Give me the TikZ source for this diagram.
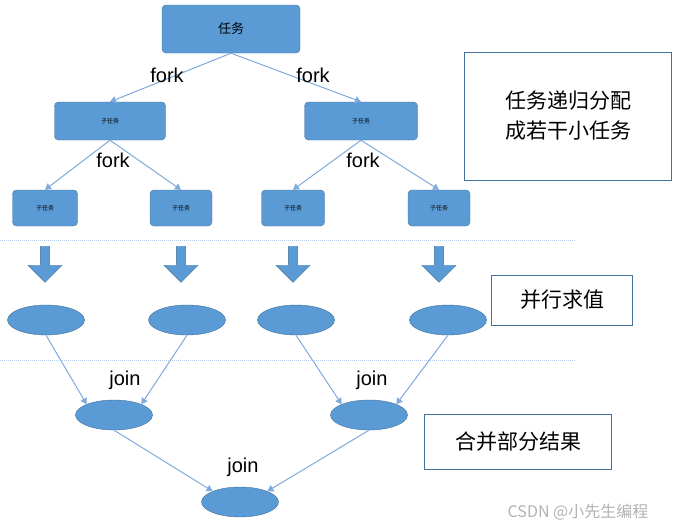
\documentclass[tikz,border=0pt]{standalone}
\usepackage{fontspec}
\setmainfont{Liberation Sans}
\newfontfamily\cjk{Noto Sans CJK SC}
\usetikzlibrary{shapes.geometric, shapes.arrows, arrows.meta, positioning}
\definecolor{tblue}{HTML}{5B9BD5}
\definecolor{tedge}{HTML}{41719C}
\definecolor{tline}{HTML}{7FAADB}
\tikzset{
task/.style = {%
    draw=tedge, fill=tblue, rounded corners=4pt,
    minimum width=#1, font=\cjk\fontsize{6}{7}\selectfont},
    task/.default = 60pt,
pod/.style = {ellipse, draw=tedge, fill=tblue,
    minimum width=77pt, minimum height=30pt, inner sep=0pt},
note/.style = {draw=tedge, line width=0.8pt, fill=white,
    font=\cjk\fontsize{21}{30}\selectfont, align=center},
lbl/.style = {font=\fontsize{20}{20}\selectfont}
}
\begin{document}
\begin{tikzpicture}[x=1pt, y=-1pt,
        every edge/.style = {draw=tline, line width=1pt, -{Triangle[length=6pt,width=7pt]}}
    ]
        \useasboundingbox (0,0) rectangle (675,530);

        % Task tree
        \node[task=138pt, minimum height=48pt, font=\cjk\fontsize{13}{14}\selectfont] at (231,29) (root) {任务};
        \node[task=111pt, minimum height=38pt] at (110,121) (subL) {子任务};
        \node[task=113pt, minimum height=38pt] at (361,121) (subR) {子任务};
        \node[task=65pt, minimum height=36pt] at (45,208)  (leaf1) {子任务};
        \node[task=62pt, minimum height=36pt] at (181,208) (leaf2) {子任务};
        \node[task=63pt, minimum height=36pt] at (293,208) (leaf3) {子任务};
        \node[task=62pt, minimum height=36pt] at (439,208) (leaf4) {子任务};

        \draw (root.south) edge (subL.north) (root.south) edge (subR.north);
        \draw (subL.south) edge (leaf1.north) (subL.south) edge (leaf2.north);
        \draw (subR.south) edge (leaf3.north) (subR.south) edge (leaf4.north);

        \node[lbl] at (167,75)  (f1) {fork};
        \node[lbl] at (313,75)  (f2) {fork};
        \node[lbl] at (113,160) (f3) {fork};
        \node[lbl] at (363,160) (f4) {fork};

        % Separators
        \coordinate (s1a) at (0,240);   \coordinate (s1b) at (575,240);
        \coordinate (s2a) at (0,360);   \coordinate (s2b) at (575,360);
        \draw[tline!60, densely dotted, line width=1pt] (s1a) -- (s1b) (s2a) -- (s2b);

        % Block arrows and values
        \foreach \n/\x in {1/45, 2/181, 3/293, 4/439}
            \node[single arrow, shape border rotate=270, draw=tedge, fill=tblue,
                  minimum width=34pt, minimum height=36pt, single arrow head extend=6pt,
                  inner sep=2pt] at (\x,262) (down\n) {};

        \node[pod] at (46,320)  (v1) {};
        \node[pod] at (187,320) (v2) {};
        \node[pod] at (296,320) (v3) {};
        \node[pod] at (448,320) (v4) {};

        % Join steps
        \node[pod] at (114,415) (jL) {};
        \node[pod] at (369,415) (jR) {};
        \node[pod] at (240,502) (res) {};

        \draw (v1.south) edge (jL.north west) (v2.south) edge (jL.north east);
        \draw (v3.south) edge (jR.north west) (v4.south) edge (jR.north east);
        \draw (jL.south) edge (res.north west) (jR.south) edge (res.north east);

        \node[lbl] at (125,380) (j1) {join};
        \node[lbl] at (372,380) (j2) {join};
        \node[lbl] at (243,467) (j3) {join};

        % Side notes
        \node[note, minimum width=207pt, minimum height=128pt] at (568,116) (n1) {任务递归分配\\成若干小任务};
        \node[note, minimum width=141pt, minimum height=50pt] at (562,300) (n2) {并行求值};
        \node[note, minimum width=187pt, minimum height=55pt] at (518,442) (n3) {合并部分结果};

        \node[text=gray!60, font=\cjk\fontsize{16}{16}\selectfont] at (578,512) (mark) {CSDN @小先生编程};
    \end{tikzpicture}
\end{document}
